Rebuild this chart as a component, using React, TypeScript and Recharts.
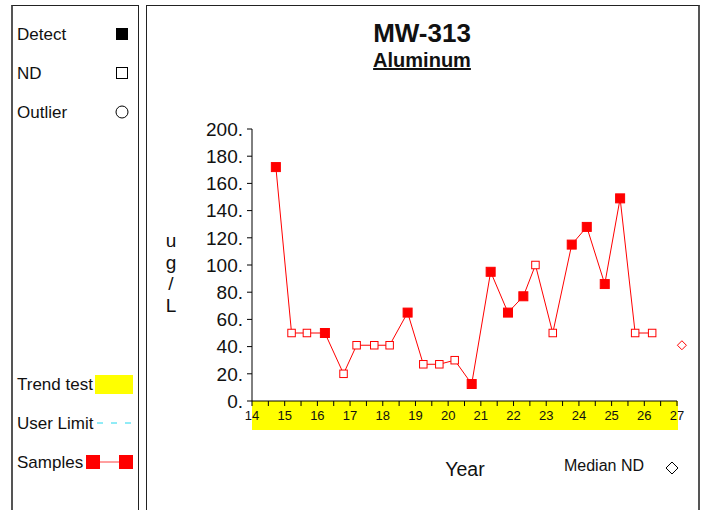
import React from "react";
import { ComposedChart, Line, XAxis, YAxis, ReferenceDot } from "recharts";

const RED = "#ff0000";
const YELLOW = "#ffff00";
const FONT = "'Liberation Sans', Arial, sans-serif";

// sample dates (decimal year), result in ug/L, detect flag
const SAMPLE_YEARS = [
  14.73, 15.21, 15.68, 16.23, 16.8, 17.2, 17.74, 18.21, 18.76, 19.24, 19.73, 20.2,
  20.72, 21.3, 21.83, 22.3, 22.67, 23.2, 23.78, 24.24, 24.79, 25.26, 25.72, 26.24,
];
const SAMPLE_VALUES = [
  172, 50, 50, 50, 20, 41, 41, 41, 65, 27, 27, 30,
  12.5, 95, 65, 77, 100, 50, 115, 128, 86, 149, 50, 50,
];
const SAMPLE_DETECT = [
  true, false, false, true, false, false, false, false, true, false, false, false,
  true, true, true, true, false, false, true, true, true, true, false, false,
];

const MEDIAN_ND_YEAR = 27.15;
const MEDIAN_ND_VALUE = 41;

const YEAR_TICKS = [
  14, 14.5, 15, 15.5, 16, 16.5, 17, 17.5, 18, 18.5, 19, 19.5, 20, 20.5,
  21, 21.5, 22, 22.5, 23, 23.5, 24, 24.5, 25, 25.5, 26, 26.5, 27,
];
const VALUE_TICKS = [0, 20, 40, 60, 80, 100, 120, 140, 160, 180, 200];

const data = SAMPLE_YEARS.map((year, i) => ({
  year,
  value: SAMPLE_VALUES[i],
  detect: SAMPLE_DETECT[i],
}));

function SampleDot(props: any) {
  const { cx, cy, payload, index } = props;
  if (cx == null || cy == null) return null;
  const s = payload.detect ? 9 : 7.5;
  return (
    <rect
      key={`dot-${index}`}
      x={cx - s / 2}
      y={cy - s / 2}
      width={s}
      height={s}
      fill={payload.detect ? RED : "#fff"}
      stroke={RED}
      strokeWidth={1}
    />
  );
}

function Diamond(props: any) {
  const { cx, cy } = props;
  const r = 4.5;
  return (
    <polygon
      points={`${cx},${cy - r} ${cx + r},${cy} ${cx},${cy + r} ${cx - r},${cy}`}
      fill="#fff"
      stroke={RED}
      strokeWidth={1}
    />
  );
}

// text placed by its centre
function Label({ x, y, size, bold, children, underline }: any) {
  return (
    <div
      style={{
        position: "absolute",
        left: x,
        top: y,
        transform: "translate(-50%, -50%)",
        fontSize: size,
        fontWeight: bold ? "bold" : "normal",
        textDecoration: underline ? "underline" : "none",
        whiteSpace: "nowrap",
        lineHeight: 1,
        color: "#111",
      }}
    >
      {children}
    </div>
  );
}

function LeftText({ y, children }: any) {
  return (
    <div
      style={{
        position: "absolute",
        left: 17,
        top: y,
        transform: "translateY(-50%)",
        fontSize: 17,
        lineHeight: 1,
        color: "#111",
        whiteSpace: "nowrap",
      }}
    >
      {children}
    </div>
  );
}

function LegendPanel() {
  return (
    <>
      <div
        style={{
          position: "absolute",
          left: 11,
          top: 5,
          width: 128,
          height: 520,
          border: "1px solid #222",
          borderLeft: "2px solid #555",
          boxSizing: "border-box",
        }}
      />
      <LeftText y={34}>Detect</LeftText>
      <LeftText y={73}>ND</LeftText>
      <LeftText y={112}>Outlier</LeftText>
      <LeftText y={384}>Trend test</LeftText>
      <LeftText y={423}>User Limit</LeftText>
      <LeftText y={462}>Samples</LeftText>
      <svg width={705} height={510} style={{ position: "absolute", left: 0, top: 0 }}>
        <rect x={116} y={28} width={12} height={12} fill="#000" />
        <rect x={116.5} y={67.5} width={11} height={11} fill="#fff" stroke="#000" />
        <circle cx={122} cy={112} r={6} fill="#fff" stroke="#000" />
        <rect x={95} y={375} width={38} height={19} fill={YELLOW} />
        <line x1={97} y1={423} x2={133} y2={423} stroke="#22d8ee" strokeDasharray="6 8" />
        <line x1={93} y1={462} x2={126} y2={462} stroke="#ff4040" />
        <rect x={86} y={455} width={14} height={14} fill={RED} />
        <rect x={119} y={455} width={14} height={14} fill={RED} />
      </svg>
    </>
  );
}

export default function App() {
  return (
    <div
      style={{
        position: "absolute",
        left: 0,
        top: 0,
        width: 705,
        height: 510,
        overflow: "hidden",
        background: "#fff",
        fontFamily: FONT,
      }}
    >
      <LegendPanel />
      <div
        style={{
          position: "absolute",
          left: 146,
          top: 5,
          width: 554,
          height: 520,
          border: "1px solid #222",
          borderRight: "2px solid #555",
          boxSizing: "border-box",
        }}
      />
      <div style={{ position: "absolute", left: 252, top: 401, width: 426, height: 29, background: YELLOW }} />
      <Label x={422} y={33} size={26} bold>
        MW-313
      </Label>
      <Label x={422} y={60} size={20} bold underline>
        Aluminum
      </Label>
      <Label x={171} y={240} size={19}>u</Label>
      <Label x={171} y={262} size={19}>g</Label>
      <Label x={171} y={283} size={19}>/</Label>
      <Label x={171} y={305} size={19}>L</Label>
      <Label x={465} y={470} size={19.5}>
        Year
      </Label>
      <Label x={604} y={466} size={16}>
        Median ND
      </Label>
      <svg width={705} height={510} style={{ position: "absolute", left: 0, top: 0 }}>
        <polygon points="672,462 678,468 672,474 666,468" fill="#fff" stroke="#000" />
      </svg>
      <div style={{ position: "absolute", left: 0, top: 0 }}>
        <ComposedChart
          width={705}
          height={510}
          data={data}
          margin={{ top: 129, right: 28, bottom: 79, left: 192 }}
          style={{ fontFamily: FONT }}
        >
          <XAxis
            dataKey="year"
            type="number"
            domain={[14, 27]}
            ticks={YEAR_TICKS}
            interval={0}
            height={30}
            tickSize={5}
            tickMargin={5}
            tickFormatter={(v: number) => (Number.isInteger(v) ? String(v) : "")}
            tick={{ fontSize: 13, fill: "#111" }}
            axisLine={{ stroke: "#000" }}
            tickLine={{ stroke: "#000" }}
          />
          <YAxis
            type="number"
            domain={[0, 200]}
            ticks={VALUE_TICKS}
            interval={0}
            width={60}
            tickSize={5}
            tickMargin={4}
            tickFormatter={(v: number) => `${v}.`}
            tick={{ fontSize: 19, fill: "#111" }}
            axisLine={{ stroke: "#000" }}
            tickLine={{ stroke: "#000" }}
          />
          <Line
            type="linear"
            dataKey="value"
            stroke={RED}
            strokeWidth={1}
            dot={SampleDot}
            activeDot={false}
            isAnimationActive={false}
          />
          <ReferenceDot
            x={MEDIAN_ND_YEAR}
            y={MEDIAN_ND_VALUE}
            ifOverflow="visible"
            shape={Diamond}
          />
        </ComposedChart>
      </div>
    </div>
  );
}
